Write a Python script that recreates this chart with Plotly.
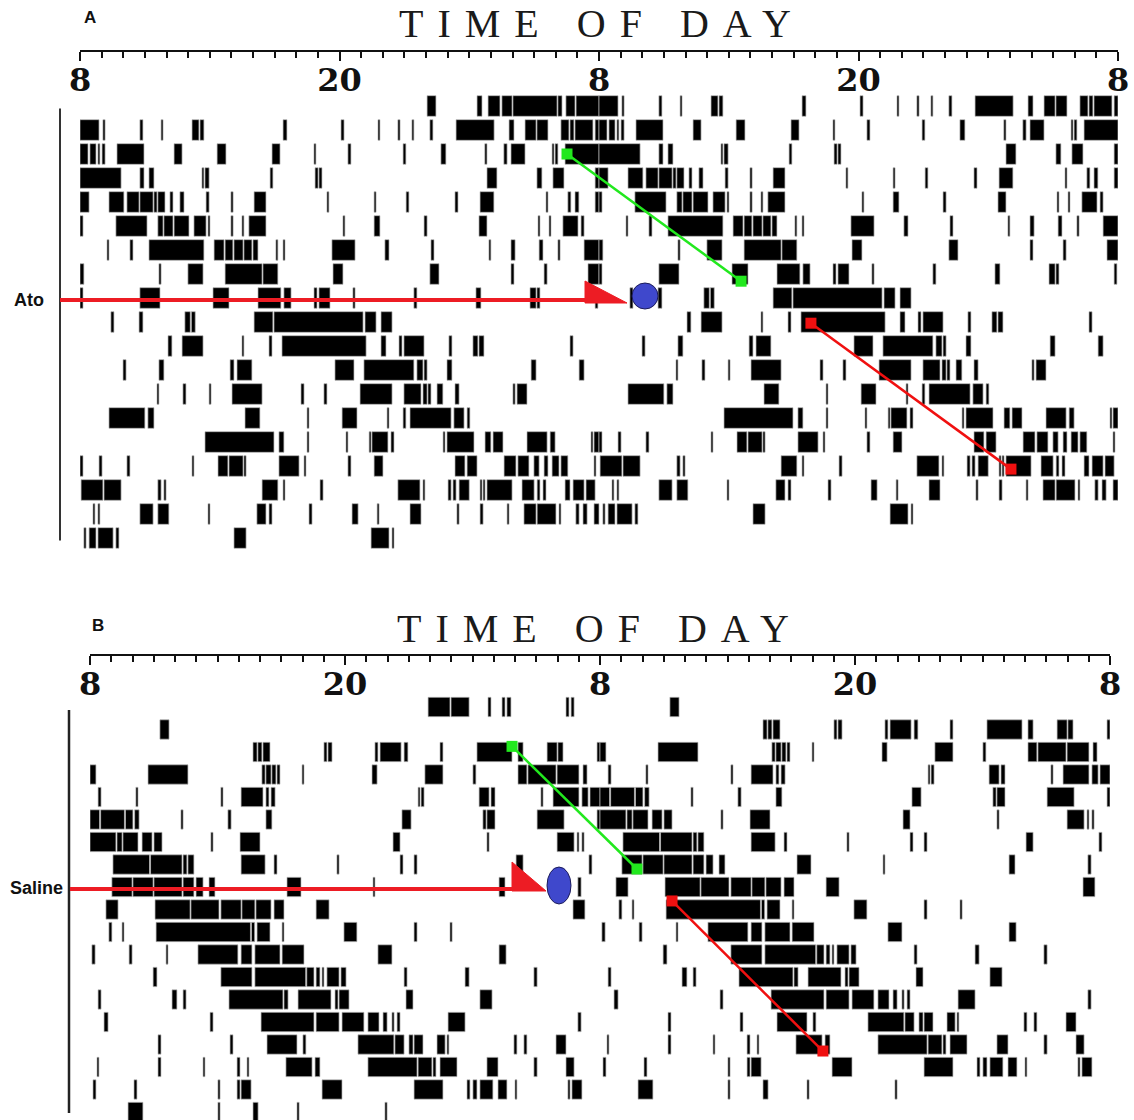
import plotly.graph_objects as go

W, H = 1134, 1120

# ---------------- DATA ----------------
# Activity bouts per day, hours after 08:00 (0..24). Double-plotted: row i = day i | day i+1
tick_vals = [0, 12, 24, 36, 48]
tick_text = ["8", "20", "8", "20", "8"]

# Panel A (Ato)
ato_d01 = [[16.05,16.46],[18.36,18.59],[18.87,19.42],[19.51,19.98],[20.02,22.06],[22.1,22.29],[22.47,22.89],[22.94,24.0]]
ato_d02 = [[0,0.88],[1.06,1.16],[2.77,2.91],[3.75,3.84],[5.18,5.5],[5.55,5.73],[9.39,9.57],[12.07,12.21],[13.78,13.87],[14.7,14.8],[15.35,15.44],[16.18,16.32],[17.39,19.15],[19.84,20.07],[20.58,21.09],[21.13,21.64],[22.24,22.61],[22.66,22.84],[22.89,23.72],[23.82,24.0]]
ato_d03 = [[0,0.37],[0.46,0.74],[0.83,0.92],[1.02,1.16],[1.71,2.96],[4.35,4.72],[6.34,6.75],[8.88,9.25],[10.82,10.91],[12.39,12.53],[14.94,15.07],[16.69,16.92],[18.72,18.82],[19.6,19.75],[19.93,20.58],[21.83,21.92],[21.97,22.1],[22.43,24]]
ato_d04 = [[0,1.9],[2.77,2.96],[3.19,3.42],[5.64,5.73],[5.78,5.97],[8.79,8.92],[10.87,11.01],[11.05,11.19],[18.82,19.28],[21.13,21.36],[21.87,22.38],[23.82,24]]
ato_d05 = [[0,0.42],[1.34,2.03],[2.17,2.73],[2.77,3.38],[3.42,3.56],[3.6,3.93],[4.16,4.3],[4.62,4.81],[5.83,5.97],[6.98,7.08],[8.05,8.6],[11.42,11.51],[13.6,13.69],[15.08,15.21],[17.34,17.48],[18.5,19.14],[21.55,21.64],[22.56,22.7],[22.89,23.07],[23.82,24]]
ato_d06 = [[0,0.14],[1.66,3.1],[3.6,3.84],[3.88,4.3],[4.35,5.04],[5.27,5.83],[5.92,6.01],[6.98,7.08],[7.49,7.58],[7.81,8.6],[12.16,12.25],[13.6,13.87],[15.91,16.05],[18.45,18.82],[21.18,21.27],[21.69,21.78],[22.33,23.03],[23.17,23.31]]
ato_d07 = [[1.25,1.34],[2.31,2.45],[3.19,5.73],[6.2,6.66],[6.71,7.07],[7.12,7.54],[7.58,7.95],[8.0,8.23],[9.06,9.15],[9.39,9.48],[11.65,12.72],[14.1,14.29],[16.23,16.37],[18.91,19.0],[19.93,20.12],[21.23,21.41],[22.1,22.2],[23.31,24]]
ato_d08 = [[0,0.18],[3.65,3.75],[4.99,5.69],[6.71,8.42],[8.46,9.15],[11.7,12.16],[16.18,16.6],[19.93,20.07],[21.46,21.6],[23.49,24]]
ato_d09 = [[0,0.14],[2.77,3.7],[6.15,6.89],[8.23,9.29],[9.43,9.76],[10.82,10.96],[11.05,11.56],[12.62,12.72],[15.44,15.58],[18.31,18.54],[20.81,21.09],[21.13,21.27],[23.82,23.95]]
ato_d10 = [[1.43,1.57],[2.73,2.91],[4.85,5.1],[5.15,5.33],[8.05,8.92],[8.97,13.09],[13.18,13.69],[13.92,14.43]]
ato_d11 = [[4.07,4.25],[4.72,5.69],[7.49,7.58],[8.74,8.88],[9.34,13.23],[13.92,14.15],[14.75,14.89],[14.98,15.91],[17.06,17.2],[18.17,18.4],[18.45,18.68],[22.66,22.8]]
ato_d12 = [[1.99,2.13],[3.65,3.88],[6.94,7.12],[7.26,7.95],[11.79,12.67],[13.13,15.44],[15.58,15.86],[15.91,16.05],[16.97,17.2],[20.86,21.09],[23.08,23.31]]
ato_d13 = [[3.56,3.65],[4.76,4.9],[5.97,6.06],[7.03,8.42],[10.22,10.36],[11.28,11.42],[12.95,14.43],[14.98,15.77],[15.86,16.05],[16.09,16.23],[16.51,16.78],[17.34,17.53],[20.02,20.12],[20.21,20.67]]
ato_d14 = [[1.34,3.0],[3.14,3.42],[7.63,8.32],[10.5,10.59],[12.12,12.81],[14.2,14.29],[14.94,15.07],[15.26,17.16],[17.29,17.76],[17.9,18.03]]
ato_d15 = [[5.78,8.97],[9.2,9.43],[10.5,10.59],[12.3,12.39],[13.37,13.46],[13.5,14.24],[14.38,14.52],[16.79,16.88],[16.97,18.22],[18.73,19.0],[19.1,19.56],[20.67,21.6],[21.74,21.97],[23.63,23.72],[23.77,24]]
ato_d16 = [[0,0.14],[0.88,1.02],[2.17,2.31],[5.18,5.27],[6.38,6.84],[6.89,7.54],[7.58,7.68],[9.2,10.13],[10.36,10.45],[12.39,12.53],[13.6,14.01],[17.34,17.8],[17.9,18.36],[19.61,20.16],[20.25,20.76],[20.99,21.23],[21.46,21.64],[21.83,22.15],[22.24,22.56],[23.77,23.86]]
ato_d17 = [[0.05,1.06],[1.11,1.9],[3.6,3.75],[3.88,3.98],[8.42,9.15],[9.39,9.48],[11.1,11.24],[14.7,15.72],[15.86,15.95],[17.02,17.16],[17.25,17.39],[17.53,18.0],[18.5,18.59],[18.64,18.73],[18.82,19.98],[20.44,21.0],[21.14,21.27],[21.41,21.55],[22.43,22.66],[22.8,23.31],[23.4,23.82]]
ato_d18 = [[0.6,0.69],[0.83,0.92],[2.77,3.38],[3.6,4.11],[5.92,6.01],[8.18,8.6],[8.74,8.88],[10.59,10.73],[12.58,12.86],[13.74,13.83],[15.26,15.77],[17.43,17.53],[18.5,18.64],[19.75,19.84],[20.53,21.09],[21.14,22.01],[22.15,22.24],[22.93,23.08],[23.26,23.45],[23.77,24]]
ato_d19 = [[0.18,0.28],[0.42,0.74],[0.83,1.53],[1.66,1.8],[7.12,7.68],[13.46,14.29],[14.43,14.52]]
ato_d20 = []
ato_days = [ato_d01, ato_d02, ato_d03, ato_d04, ato_d05, ato_d06, ato_d07, ato_d08, ato_d09, ato_d10,
            ato_d11, ato_d12, ato_d13, ato_d14, ato_d15, ato_d16, ato_d17, ato_d18, ato_d19, ato_d20]

# Panel B (Saline)
sal_d01 = [[15.91,16.94],[16.99,17.84],[18.73,18.87],[19.39,19.53],[19.62,19.81],[22.4,22.54],[22.64,22.78]]
sal_d02 = [[3.29,3.72]]
sal_d03 = [[7.67,7.86],[7.9,8.09],[8.14,8.47],[11.01,11.15],[11.2,11.39],[13.41,13.55],[13.65,14.64],[14.78,14.96],[16.47,16.61],[18.21,19.86],[20.14,20.38],[21.51,21.98],[22.02,22.26],[23.86,24.0]]
sal_d04 = [[0,0.28],[2.73,4.61],[8.09,8.24],[8.28,8.52],[8.56,8.75],[8.8,8.94],[9.98,10.07],[13.27,13.51],[15.76,16.61],[18.02,18.16],[20.14,20.56],[20.61,21.93],[21.98,23.01],[23.2,23.39]]
sal_d05 = [[0.38,0.52],[2.16,2.26],[6.16,6.26],[7.11,8.14],[8.28,8.42],[8.52,8.71],[15.44,15.53],[15.58,15.72],[18.31,18.78],[18.87,19.06],[21.22,21.32],[21.79,23.01],[23.15,23.44],[23.53,24.0]]
sal_d06 = [[0,0.45],[0.5,1.62],[1.67,2.02],[2.1,2.31],[4.28,4.38],[6.49,6.64],[8.28,8.56],[14.68,15.11],[18.49,18.64],[18.68,19.06],[21.04,22.31],[23.86,24.0]]
sal_d07 = [[0,1.22],[1.27,1.51],[1.55,2.26],[2.45,2.92],[3.01,3.39],[5.69,5.79],[7.06,8.0],[14.26,14.59],[18.68,18.78],[21.98,22.78],[22.92,23.01],[23.15,23.25]]
sal_d08 = [[1.08,2.8],[2.85,4.33],[4.38,4.56],[4.61,4.89],[7.11,8.24],[8.66,8.8],[11.62,11.72],[14.59,14.73],[15.25,15.39],[20.05,20.38],[23.48,23.62]]
sal_d09 = [[1.03,1.98],[2.02,2.97],[3.01,4.33],[4.38,4.89],[4.99,5.32],[5.6,5.88],[9.27,9.93],[13.32,13.41],[19.25,19.53],[22.96,23.11]]
sal_d10 = [[0.75,1.32],[3.06,4.71],[4.75,6.07],[6.16,7.11],[7.15,7.76],[7.81,8.52],[8.66,9.13],[10.64,11.25],[22.73,23.29]]
sal_d11 = [[0.89,1.03],[1.51,1.6],[3.11,7.55],[7.6,7.75],[7.86,8.47],[9.04,9.13],[11.95,12.56],[15.25,15.39],[16.94,17.04]]
sal_d12 = [[0.09,0.24],[1.84,1.98],[3.58,3.67],[5.08,6.96],[7.11,7.62],[7.76,8.94],[9.04,10.07],[13.55,14.21],[19.25,19.58]]
sal_d13 = [[2.97,3.15],[6.16,7.62],[7.76,10.15],[10.2,10.54],[10.64,10.82],[10.92,11.01],[11.15,11.72],[11.81,12.05],[14.78,14.92],[17.65,17.84],[20.89,21.04]]
sal_d14 = [[0.38,0.52],[3.86,4.09],[4.38,4.52],[6.54,9.08],[9.13,9.32],[9.79,11.34],[11.53,11.67],[11.72,12.19],[14.87,15.2],[18.35,18.92]]
sal_d15 = [[0.66,0.85],[5.65,5.79],[8.05,10.54],[10.64,11.72],[11.86,12.89],[13.08,13.6],[13.79,13.98],[14.21,14.31],[14.45,14.59],[16.85,17.65],[22.96,23.11]]
sal_d16 = [[3.2,3.34],[6.59,6.73],[8.33,9.74],[10.02,10.16],[12.61,14.3],[14.35,14.78],[15.01,15.2],[15.25,15.67],[16.33,16.71],[16.8,16.89],[19.95,20.09],[20.42,20.56],[21.93,22.4]]
sal_d17 = [[0.33,0.42],[3.2,3.34],[5.32,5.41],[6.92,7.06],[7.39,7.48],[9.22,10.45],[10.59,10.82],[13.08,15.39],[15.44,16.09],[16.14,16.28],[16.47,17.27],[18.68,19.2],[20.89,21.04],[22.4,22.78]]
sal_d18 = [[0.14,0.28],[2.07,2.21],[6.02,6.12],[6.92,7.06],[7.11,7.58],[10.92,11.86],[15.25,16.61],[17.74,17.88],[18.02,18.21],[18.35,18.96],[19.2,19.62],[20.0,20.09],[22.49,22.59],[22.68,23.15]]
sal_d19 = [[1.79,2.49],[6.02,6.12],[7.67,7.91],[9.74,9.84],[13.88,13.98]]
sal_d20 = []
sal_days = [sal_d01, sal_d02, sal_d03, sal_d04, sal_d05, sal_d06, sal_d07, sal_d08, sal_d09, sal_d10,
            sal_d11, sal_d12, sal_d13, sal_d14, sal_d15, sal_d16, sal_d17, sal_d18, sal_d19, sal_d20]

# Onset marker lines (hour on 48h axis, row)
ato_green_hour = [22.52, 30.57]
ato_green_row = [3.0, 8.3]
ato_red_hour = [33.8, 43.05]
ato_red_row = [10.05, 16.13]
sal_green_hour = [19.86, 25.74]
sal_green_row = [2.75, 8.2]
sal_red_hour = [27.39, 34.49]
sal_red_row = [9.62, 16.29]


# ---------------- BUILD ----------------
def px(x):
    return x / W


def py(y):
    return 1 - y / H


def double_plot(days):
    rows, bases, lens = [], [], []
    for r in range(len(days) - 1):
        for s, e in days[r]:
            rows.append(r + 1); bases.append(s); lens.append(e - s)
        for s, e in days[r + 1]:
            rows.append(r + 1); bases.append(s + 24); lens.append(e - s)
    return rows, bases, lens


fig = go.Figure()
bar_style = dict(color="black", line=dict(color="#b8b8b8", width=0.7))

for days, xa, ya in [(ato_days, "x", "y"), (sal_days, "x2", "y2")]:
    r, b, l = double_plot(days)
    fig.add_trace(go.Bar(orientation="h", y=r, x=l, base=b, width=0.86,
                         marker=bar_style, xaxis=xa, yaxis=ya, showlegend=False,
                         hoverinfo="skip"))

for hx, ry, col, xa, ya in [
    (ato_green_hour, ato_green_row, "#22e81e", "x", "y"),
    (ato_red_hour, ato_red_row, "#f01010", "x", "y"),
    (sal_green_hour, sal_green_row, "#22e81e", "x2", "y2"),
    (sal_red_hour, sal_red_row, "#f01010", "x2", "y2"),
]:
    fig.add_trace(go.Scatter(x=hx, y=ry, mode="lines+markers", xaxis=xa, yaxis=ya,
                             line=dict(color=col, width=2.5),
                             marker=dict(symbol="square", size=11, color=col),
                             showlegend=False, cliponaxis=False, hoverinfo="skip"))

xcommon = dict(range=[0, 48], anchor="free", side="bottom", showgrid=False, zeroline=False,
               automargin=False,
               showline=True, linecolor="#111", linewidth=2,
               ticks="outside", ticklen=9, tickwidth=2, tickcolor="#111",
               tickmode="array", tickvals=tick_vals, ticktext=tick_text,
               ticklabelstandoff=-8,
               tickfont=dict(family="DejaVu Serif", size=32, color="#111", weight="bold"),
               minor=dict(ticks="outside", ticklen=6, tickwidth=1.5, tickcolor="#111",
                          tickmode="linear", tick0=0, dtick=1),
               fixedrange=True)

fig.update_layout(
    width=W, height=H, margin=dict(l=0, r=0, t=0, b=0, pad=0, autoexpand=False), autosize=False,
    paper_bgcolor="white", plot_bgcolor="white", barmode="overlay",
    xaxis=dict(domain=[px(80), px(1118)], position=py(51), **xcommon),
    yaxis=dict(domain=[py(552.4), py(91.6)], range=[19.6, 0.4], visible=False, anchor="x",
               automargin=False, fixedrange=True),
    xaxis2=dict(domain=[px(90), px(1110)], position=py(655), **xcommon),
    yaxis2=dict(domain=[0, py(693.5)], range=[19.356, 0.4], visible=False, anchor="x2",
                automargin=False, fixedrange=True),
)

red = "#ed1c24"
blue = "#3f48cc"
shapes = [
    # left vertical rules
    dict(type="line", xref="paper", yref="y", x0=px(60), x1=px(60), y0=1.1, y1=19.1,
         line=dict(color="#333", width=2)),
    dict(type="line", xref="paper", yref="y2", x0=px(69), x1=px(69), y0=1.13, y1=19.04,
         line=dict(color="#222", width=2.5)),
    # Panel A injection arrow
    dict(type="line", xref="paper", yref="paper", x0=px(60), x1=px(588), y0=py(300), y1=py(300),
         line=dict(color=red, width=4)),
    dict(type="path", xref="paper", yref="paper",
         path=f"M {px(585)},{py(281)} L {px(585)},{py(303)} L {px(627)},{py(303)} Z",
         fillcolor=red, line=dict(color=red, width=1)),
    dict(type="circle", xref="paper", yref="paper", x0=px(632), x1=px(658), y0=py(309), y1=py(283),
         fillcolor=blue, line=dict(color="#1c1c5a", width=1)),
    # Panel B injection arrow
    dict(type="line", xref="paper", yref="paper", x0=px(70), x1=px(515), y0=py(889), y1=py(889),
         line=dict(color=red, width=4)),
    dict(type="path", xref="paper", yref="paper",
         path=f"M {px(512)},{py(862)} L {px(512)},{py(891)} L {px(546)},{py(891)} Z",
         fillcolor=red, line=dict(color=red, width=1)),
    dict(type="circle", xref="paper", yref="paper", x0=px(547), x1=px(571), y0=py(904), y1=py(867),
         fillcolor=blue, line=dict(color="#1c1c5a", width=1)),
]
fig.update_layout(shapes=shapes)

ann = []
for (x, y) in [(602, 23), (600, 628)]:
    ann.append(dict(text="TIME OF DAY", x=px(x), y=py(y), xref="paper", yref="paper",
                    showarrow=False, xanchor="center", yanchor="middle",
                    font=dict(family="Liberation Serif", size=40, color="#1a1a1a")))
for txt, x, y, sz in [("<b>A</b>", 90, 18, 17), ("<b>B</b>", 98, 625, 17),
                      ("<b>Ato</b>", 29, 300, 18), ("<b>Saline</b>", 36, 888, 18)]:
    ann.append(dict(text=txt, x=px(x), y=py(y), xref="paper", yref="paper", showarrow=False,
                    xanchor="center", yanchor="middle",
                    font=dict(family="Liberation Sans", size=sz, color="#111")))
fig.update_layout(annotations=ann)

post = """
(function(){
  function sp(){
    document.querySelectorAll('text.annotation-text').forEach(function(t){
      if(t.textContent==='TIME OF DAY'){ t.style.letterSpacing='14px'; }
    });
  }
  sp(); setTimeout(sp, 50); setTimeout(sp, 300);
})();
"""

fig.write_html("out.html", post_script=post)
